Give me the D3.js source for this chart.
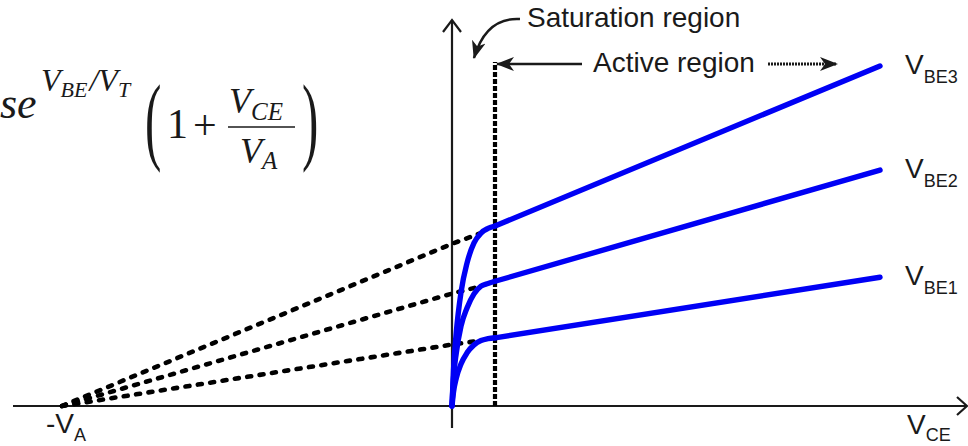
<!DOCTYPE html>
<html>
<head>
<meta charset="utf-8">
<script src="https://cdn.jsdelivr.net/npm/d3@7"></script>
<style>
  html, body { margin: 0; padding: 0; background: #fff; }
  svg { display: block; }
  .lbl { font-family: "Liberation Sans", Arial, sans-serif; fill: #1a1a1a; }
  .math { font-family: "Liberation Serif", "Times New Roman", serif; fill: #1a1a1a; }
</style>
</head>
<body>
<svg id="chart" width="968" height="446"></svg>
<script>
// ---- Data: BJT output characteristics with Early effect ----
const VA = 39;            // Early voltage (magnitude); lines meet at -VA
const vceMax = 42.8;      // end of the drawn characteristics
const vceSat = 4.3;       // saturation / active boundary
const axisXmin = -43.9;   // horizontal axis extent
const axisXmax = 51.5;
const axisYmin = -0.72;   // vertical axis extent
const axisYmax = 12.5;

const vbeLabels = ["BE1", "BE2", "BE3"];
const icAtZero = [2.0, 3.66, 5.28];    // active-region current extrapolated to VCE = 0
const icAtEnd  = [4.19, 7.68, 11.07];  // current at vceMax

// saturation-region samples (VCE, and IC for each VBE)
const satVce  = [0, 0.15, 0.43, 0.9, 1.5, 2.2, 2.9, 3.6, 4.3];
const satIc1  = [0, 0.45, 0.91, 1.37, 1.73, 1.99, 2.13, 2.19, 2.22];
const satIc2  = [0, 0.91, 1.73, 2.60, 3.19, 3.65, 3.90, 3.99, 4.06];
const satIc3  = [0, 1.17, 2.40, 3.70, 4.65, 5.31, 5.63, 5.78, 5.86];
const satIc   = [satIc1, satIc2, satIc3];

// ---- Scales ----
const x = d3.scaleLinear().domain([-VA, vceMax]).range([62, 880]);
const y = d3.scaleLinear().domain([0, axisYmax]).range([406, 22]);

const svg = d3.select("#chart");
const ink = "#1a1a1a";
const blue = "#0000f5";

// ---- Arrowhead marker ----
const defs = svg.append("defs");
defs.append("marker")
  .attr("id", "head")
  .attr("viewBox", "0 0 18 14")
  .attr("refX", 17).attr("refY", 7)
  .attr("markerWidth", 18).attr("markerHeight", 14)
  .attr("markerUnits", "userSpaceOnUse")
  .attr("orient", "auto")
  .append("path")
  .attr("d", "M0,0 L18,7 L0,14 L5,7 Z")
  .attr("fill", ink);

// ---- Axes ----
svg.append("line")
  .attr("x1", x(axisXmin)).attr("x2", x(axisXmax))
  .attr("y1", y(0)).attr("y2", y(0))
  .attr("stroke", ink).attr("stroke-width", 2.2);
svg.append("polyline")
  .attr("points", `${x(axisXmax) - 10},${y(0) - 9} ${x(axisXmax)},${y(0)} ${x(axisXmax) - 10},${y(0) + 9}`)
  .attr("fill", "none").attr("stroke", ink).attr("stroke-width", 2.2);

svg.append("line")
  .attr("x1", x(0)).attr("x2", x(0))
  .attr("y1", y(axisYmin)).attr("y2", y(axisYmax) - 2)
  .attr("stroke", ink).attr("stroke-width", 2.2);
svg.append("polyline")
  .attr("points", `${x(0) - 9},${y(axisYmax) + 10} ${x(0)},${y(axisYmax) - 2} ${x(0) + 9},${y(axisYmax) + 10}`)
  .attr("fill", "none").attr("stroke", ink).attr("stroke-width", 2.2);

// ---- Extrapolated (dashed) lines back to -VA ----
const straight = d3.line().x(d => x(d[0])).y(d => y(d[1]));
vbeLabels.forEach((_, i) => {
  const s = satIc[i];
  svg.append("path")
    .attr("d", straight([[-VA, 0], [0, icAtZero[i]], [vceSat - 1.4, s[s.length - 3]]]))
    .attr("fill", "none").attr("stroke", "#000")
    .attr("stroke-width", 4.6)
    .attr("stroke-dasharray", "4,8.5")
    .attr("stroke-linecap", "round");
});

// ---- Saturation / active boundary (dotted) ----
svg.append("line")
  .attr("x1", x(vceSat)).attr("x2", x(vceSat))
  .attr("y1", y(0)).attr("y2", 62)
  .attr("stroke", "#000").attr("stroke-width", 4.2)
  .attr("stroke-dasharray", "5,2");

// ---- IC curves ----
const curve = d3.line().x(d => x(d[0])).y(d => y(d[1])).curve(d3.curveMonotoneX);
vbeLabels.forEach((name, i) => {
  const pts = satVce.map((v, k) => [v, satIc[i][k]]);
  svg.append("path")
    .attr("d", curve(pts))
    .attr("fill", "none").attr("stroke", blue)
    .attr("stroke-width", 5.4).attr("stroke-linecap", "round");
  svg.append("path")
    .attr("d", straight([pts[pts.length - 1], [vceMax, icAtEnd[i]]]))
    .attr("fill", "none").attr("stroke", blue)
    .attr("stroke-width", 5.4).attr("stroke-linecap", "round");

  // V_BE label at the end of each curve
  const t = svg.append("text").attr("class", "lbl")
    .attr("x", x(vceMax) + 25).attr("y", y(icAtEnd[i]) + 8)
    .attr("font-size", 28);
  t.append("tspan").text("V");
  t.append("tspan").attr("font-size", 18).attr("dy", 9).text(name);
});

// ---- Axis labels ----
const va = svg.append("text").attr("class", "lbl")
  .attr("x", 46).attr("y", 433).attr("font-size", 28);
va.append("tspan").text("-V");
va.append("tspan").attr("font-size", 18).attr("dy", 8).text("A");

const vce = svg.append("text").attr("class", "lbl")
  .attr("x", 907).attr("y", 434).attr("font-size", 28);
vce.append("tspan").text("V");
vce.append("tspan").attr("font-size", 18).attr("dy", 7).text("CE");

// ---- Region annotations ----
svg.append("text").attr("class", "lbl")
  .attr("x", 527).attr("y", 27).attr("font-size", 28)
  .text("Saturation region");
svg.append("path")
  .attr("d", "M520,19 Q486,17 474,58")
  .attr("fill", "none").attr("stroke", ink).attr("stroke-width", 2.5)
  .attr("marker-end", "url(#head)");

svg.append("text").attr("class", "lbl")
  .attr("x", 593).attr("y", 72).attr("font-size", 28)
  .text("Active region");
svg.append("line")
  .attr("x1", 582).attr("x2", 497).attr("y1", 64).attr("y2", 64)
  .attr("stroke", ink).attr("stroke-width", 2.5)
  .attr("marker-end", "url(#head)");
svg.append("line")
  .attr("x1", 768).attr("x2", 837).attr("y1", 64).attr("y2", 64)
  .attr("stroke", ink).attr("stroke-width", 3)
  .attr("stroke-dasharray", "2,1")
  .attr("marker-end", "url(#head)");

// ---- Collector current expression ----
const m = svg.append("g").attr("class", "math");
m.append("text").attr("x", 0).attr("y", 118).attr("font-size", 44)
  .attr("font-style", "italic").text("se");
const ex = m.append("text").attr("x", 41).attr("y", 91).attr("font-size", 32)
  .attr("font-style", "italic");
ex.append("tspan").text("V");
ex.append("tspan").attr("font-size", 22).attr("dy", 6).text("BE");
ex.append("tspan").attr("font-size", 32).attr("dy", -6).attr("dx", 2).text("/");
ex.append("tspan").text("V");
ex.append("tspan").attr("font-size", 22).attr("dy", 6).text("T");

m.append("text").attr("transform", "translate(145,152) scale(0.5,1)")
  .attr("font-size", 98).text("(");
m.append("text").attr("x", 167).attr("y", 138).attr("font-size", 42).text("1");
m.append("text").attr("x", 193).attr("y", 139).attr("font-size", 42).text("+");
m.append("line").attr("x1", 228).attr("x2", 295).attr("y1", 127).attr("y2", 127)
  .attr("stroke", ink).attr("stroke-width", 1.6);
const num = m.append("text").attr("x", 229).attr("y", 113).attr("font-size", 36)
  .attr("font-style", "italic");
num.append("tspan").text("V");
num.append("tspan").attr("font-size", 25).attr("dy", 7).text("CE");
const den = m.append("text").attr("x", 240).attr("y", 163).attr("font-size", 36)
  .attr("font-style", "italic");
den.append("tspan").text("V");
den.append("tspan").attr("font-size", 25).attr("dy", 6).text("A");
m.append("text").attr("transform", "translate(302,152) scale(0.5,1)")
  .attr("font-size", 98).text(")");
</script>
</body>
</html>
